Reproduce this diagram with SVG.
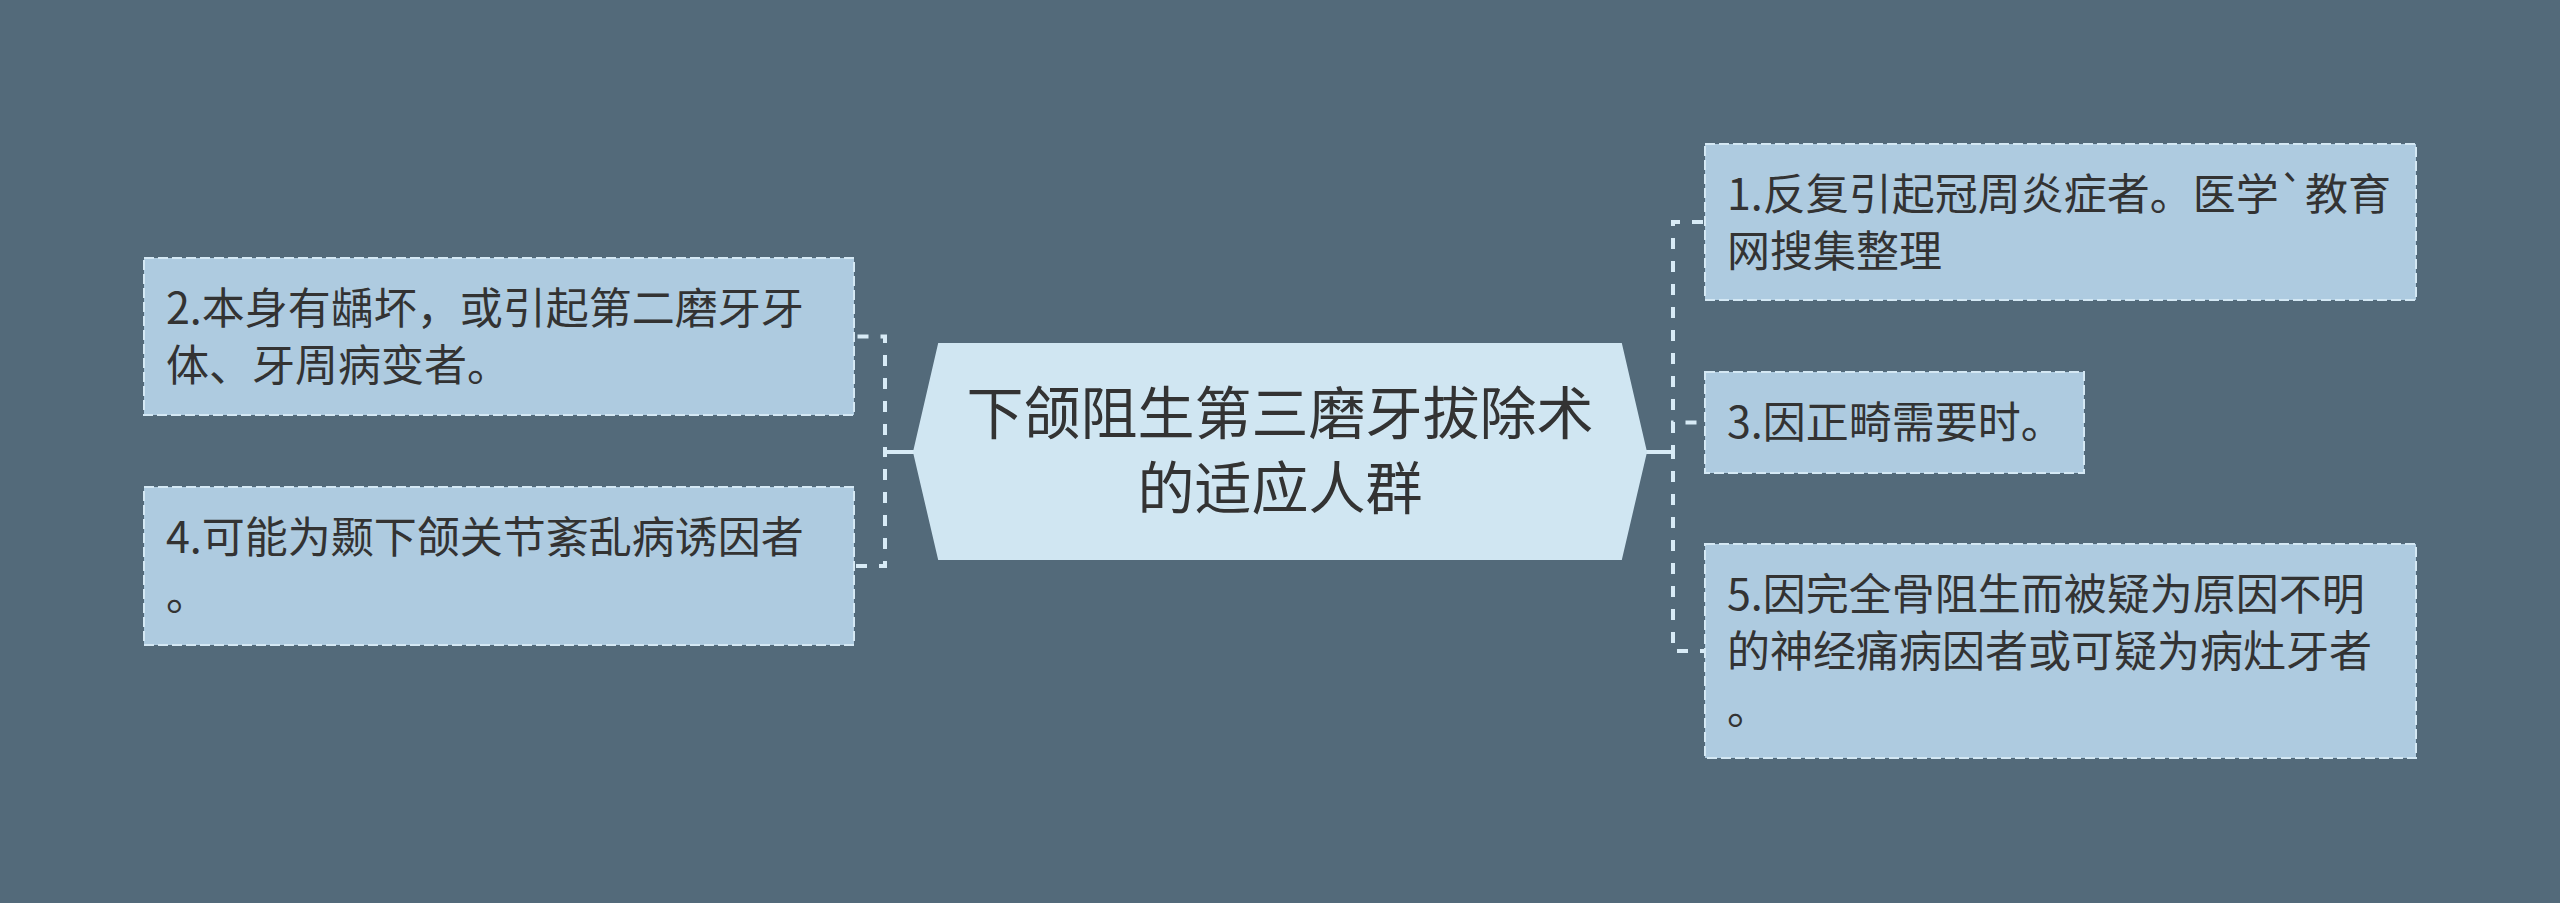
<svg xmlns="http://www.w3.org/2000/svg" width="2560" height="903" viewBox="0 0 2560 903">
<style>
.bg{fill:#536a7a}
.box{fill:#aecbe0;stroke:#d4e8f4;stroke-width:2;stroke-dasharray:10 4}
.center{fill:#d0e6f2;stroke:#d0e6f2;stroke-width:2}
.conn{fill:none;stroke:#d8ebf6;stroke-width:4;stroke-dasharray:11 12}
.t{font-family:"Noto Sans CJK SC","Noto Sans",sans-serif;fill:#333333}
.nt{font-size:43px}
.ct{font-size:57px}
</style>
<rect class="bg" x="0" y="0" width="2560" height="903"/>
<g id="connectors">
<path class="conn" d="M914,452 H885 V336.5 H854"/>
<path class="conn" d="M914,452 H885 V566 H854"/>
<path class="conn" d="M1646,452 H1673 V222 H1705"/>
<path class="conn" d="M1646,452 H1673 V422.5 H1705"/>
<path class="conn" d="M1646,452 H1673 V651 H1705"/>
<path d="M885,452 H914 M1646,452 H1673" stroke="#d8ebf6" stroke-width="4" fill="none"/>
</g>
<g id="center">
<polygon class="center" points="939,344 1621,344 1646,452 1621,559 939,559 914,452"/>
<text class="t ct" x="1280" y="434" text-anchor="middle">下颌阻生第三磨牙拔除术</text>
<text class="t ct" x="1280" y="509" text-anchor="middle">的适应人群</text>
</g>
<g id="node2">
<rect class="box" x="144" y="258" width="710" height="157"/>
<text class="t nt" x="166" y="324">2.本身有龋坏，或引起第二磨牙牙</text>
<text class="t nt" x="166" y="381">体、牙周病变者。</text>
</g>
<g id="node4">
<rect class="box" x="144" y="487" width="710" height="158"/>
<text class="t nt" x="166" y="553">4.可能为颞下颌关节紊乱病诱因者</text>
<text class="t nt" x="166" y="610">。</text>
</g>
<g id="node1">
<rect class="box" x="1705" y="144" width="711" height="156"/>
<text class="t nt" x="1727" y="210">1.反复引起冠周炎症者。医学`教育</text>
<text class="t nt" x="1727" y="267">网搜集整理</text>
</g>
<g id="node3">
<rect class="box" x="1705" y="372" width="379" height="101"/>
<text class="t nt" x="1727" y="438">3.因正畸需要时。</text>
</g>
<g id="node5">
<rect class="box" x="1705" y="544" width="711" height="214"/>
<text class="t nt" x="1727" y="610">5.因完全骨阻生而被疑为原因不明</text>
<text class="t nt" x="1727" y="667">的神经痛病因者或可疑为病灶牙者</text>
<text class="t nt" x="1727" y="724">。</text>
</g>
</svg>
